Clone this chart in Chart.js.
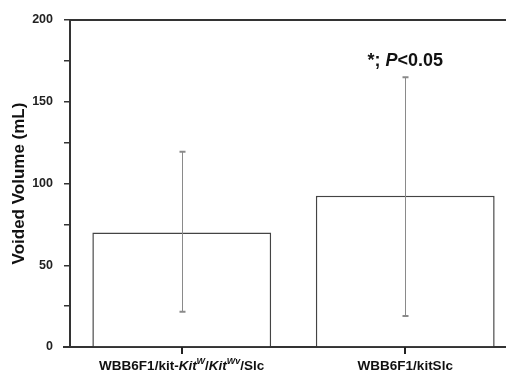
<!DOCTYPE html>
<html>
<head>
<meta charset="utf-8">
<script src="https://cdn.jsdelivr.net/npm/chart.js@4.4.0/dist/chart.umd.min.js"></script>
<style>
  html, body { margin: 0; padding: 0; background: #fff; overflow: hidden; }
  #wrap { width: 506px; height: 372px; overflow: hidden; position: relative; }
  #grafico { display: block; }
</style>
</head>
<body>
<div id="wrap"><canvas id="grafico" width="517" height="372"></canvas></div>
<script>
const grupos = ["WBB6F1/kit-Kit^W/Kit^Wv/Slc", "WBB6F1/kitSlc"];
const medias = [70, 92.5];
const erroAlto = [119.4, 165];
const erroBaixo = [21.6, 19];
const ticksY = [0, 50, 100, 150, 200];
const anotacao = ["*; ", "P", "<0.05"];

const FONTE = "'Liberation Sans', Arial, sans-serif";
const COR_EIXO = "#333";

// pedaços dos rótulos do eixo x: [texto, italico, sobrescrito]
const partesRotulo = [
    [["WBB6F1/kit-", false, false], ["Kit", true, false], ["W", true, true],
     ["/", false, false], ["Kit", true, false], ["Wv", true, true], ["/Slc", false, false]],
    [["WBB6F1/kitSlc", false, false]]
];

const barrasErro = {
    id: "barrasErro",
    afterDatasetsDraw(chart) {
        const ctx = chart.ctx;
        const x = chart.scales.x, y = chart.scales.y;
        ctx.save();
        ctx.strokeStyle = "#8a8a8a";
        ctx.lineWidth = 1;
        medias.forEach((m, i) => {
            const px = Math.round(x.getPixelForValue(i)) + 0.5;
            const top = y.getPixelForValue(erroAlto[i]);
            const bot = y.getPixelForValue(erroBaixo[i]);
            ctx.beginPath();
            ctx.moveTo(px, top); ctx.lineTo(px, bot);
            ctx.stroke();
            ctx.lineWidth = 2;
            ctx.beginPath();
            ctx.moveTo(px - 3, top); ctx.lineTo(px + 3, top);
            ctx.moveTo(px - 3, bot); ctx.lineTo(px + 3, bot);
            ctx.stroke();
            ctx.lineWidth = 1;
        });
        ctx.restore();
    },
    afterDraw(chart) {
        const ctx = chart.ctx;
        const area = chart.chartArea;
        const x = chart.scales.x;
        ctx.save();
        // linha de cima e prolongamento do eixo x
        ctx.strokeStyle = COR_EIXO;
        ctx.lineWidth = 2;
        ctx.beginPath();
        ctx.moveTo(area.left, area.top);
        ctx.lineTo(area.right, area.top);
        ctx.moveTo(area.left - 7, area.bottom);
        ctx.lineTo(area.left, area.bottom);
        ctx.stroke();

        // marcas do eixo x no centro de cada grupo
        ctx.strokeStyle = "#222";
        ctx.lineWidth = 2;
        grupos.forEach((g, i) => {
            const px = Math.round(x.getPixelForValue(i));
            ctx.beginPath();
            ctx.moveTo(px, area.bottom);
            ctx.lineTo(px, area.bottom + 7);
            ctx.stroke();
        });

        // rótulos do eixo x
        ctx.fillStyle = "#111";
        ctx.textBaseline = "alphabetic";
        ctx.textAlign = "left";
        partesRotulo.forEach((partes, i) => {
            const fonte = p => (p[1] ? "italic " : "") + "bold " + (p[2] ? "9px " : "13.5px ") + FONTE;
            let total = 0;
            partes.forEach(p => { ctx.font = fonte(p); total += ctx.measureText(p[0]).width; });
            let cx = x.getPixelForValue(i) - total / 2;
            partes.forEach(p => {
                ctx.font = fonte(p);
                ctx.fillText(p[0], cx, p[2] ? 364 : 370);
                cx += ctx.measureText(p[0]).width;
            });
        });

        // anotação de significância
        const px = x.getPixelForValue(1);
        const fA = ["bold 18px " + FONTE, "italic bold 18px " + FONTE, "bold 18px " + FONTE];
        let total = 0;
        anotacao.forEach((t, k) => { ctx.font = fA[k]; total += ctx.measureText(t).width; });
        let ax = px - total / 2;
        anotacao.forEach((t, k) => {
            ctx.font = fA[k];
            ctx.fillText(t, ax, 66);
            ax += ctx.measureText(t).width;
        });
        ctx.restore();
    }
};

new Chart(document.getElementById("grafico"), {
    type: "bar",
    data: {
        labels: grupos,
        datasets: [{
            data: medias,
            backgroundColor: "#ffffff",
            borderColor: "#444",
            borderWidth: 1.5,
            barPercentage: 0.8,
            categoryPercentage: 1
        }]
    },
    options: {
        responsive: false,
        animation: false,
        layout: { padding: { top: 20, right: 0, left: 0, bottom: 0 } },
        plugins: { legend: { display: false }, tooltip: { enabled: false } },
        scales: {
            x: {
                grid: { display: false },
                border: { display: true, color: COR_EIXO, width: 2 },
                ticks: { display: false },
                afterFit: s => { s.height = 25; }
            },
            y: {
                min: 0,
                max: 200,
                afterBuildTicks: s => {
                    s.ticks = [];
                    for (let v = 0; v <= 200; v += 25) s.ticks.push({ value: v });
                },
                grid: { drawOnChartArea: false, tickLength: 6, color: COR_EIXO, lineWidth: 1.5 },
                border: { color: COR_EIXO, width: 2 },
                ticks: {
                    padding: 11,
                    color: "#222",
                    font: { family: FONTE, size: 12.5, weight: "bold" },
                    callback: v => ticksY.includes(v) ? v : ""
                },
                title: {
                    display: true,
                    text: "Voided Volume (mL)",
                    color: "#111",
                    font: { family: FONTE, size: 17, weight: "bold" },
                    padding: { top: 9, bottom: 0 }
                },
                afterFit: s => { s.width = 70; }
            }
        }
    },
    plugins: [barrasErro]
});
</script>
</body>
</html>
